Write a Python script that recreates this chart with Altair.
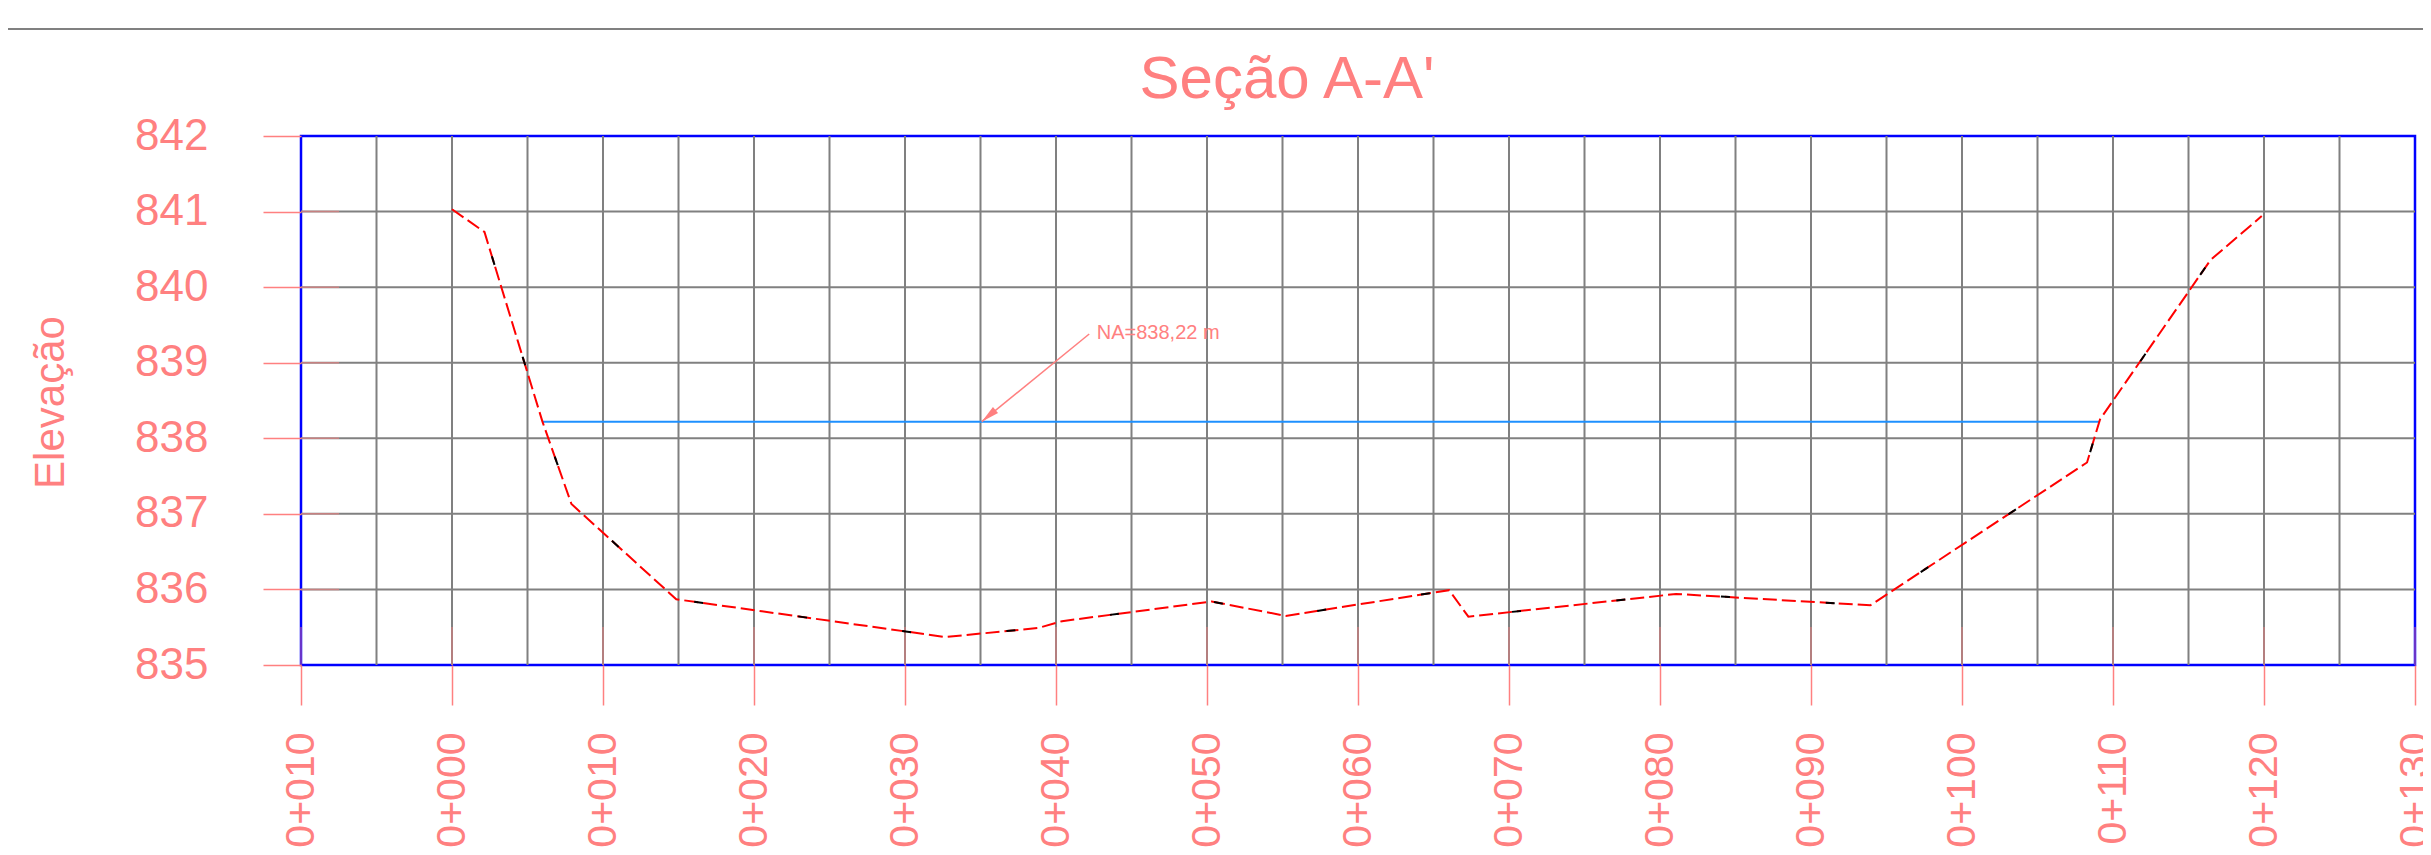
import altair as alt
import pandas as pd

# ---- data ----
estacas = [0.0, 2.15, 5.99, 7.91, 14.85, 32.68, 38.83, 40.4, 50.31, 55.21,
           66.03, 67.31, 81.06, 93.93, 108.28, 109.14, 116.46, 119.85]
cotas = [841.03, 840.73, 838.22, 837.13, 835.87, 835.37, 835.49, 835.58, 835.84, 835.65,
         835.99, 835.64, 835.94, 835.79, 837.68, 838.25, 840.36, 840.94]

na_x = [5.99, 109.1]
na_level = 838.22
na_text = "NA=838,22 m"
arrow_x = [42.2, 35.08]
arrow_y = [839.38, 838.22]
na_label_x = 42.7
na_label_y = 839.39

x_ticks = list(range(-10, 131, 10))
x_tick_labels = ["-0+010", "0+000", "0+010", "0+020", "0+030", "0+040", "0+050", "0+060",
                 "0+070", "0+080", "0+090", "0+100", "0+110", "0+120", "0+130"]
y_ticks = list(range(835, 843))
grid_x = list(range(-5, 130, 5))
grid_y = list(range(836, 842))

title_text = "Seção A-A'"
y_title = "Elevação"

PINK = "#FF8080"
FONT = "Liberation Sans"

# ---- scales / axes ----
xscale = alt.Scale(domain=[-10, 130], nice=False, zero=False)
yscale = alt.Scale(domain=[835, 842], nice=False, zero=False)

label_expr = "[" + ",".join("'%s'" % s for s in x_tick_labels) + "][round((datum.value + 10) / 10)]"

xaxis = alt.Axis(values=x_ticks, labelExpr=label_expr, title=None, grid=False, domain=False,
                 ticks=True, tickSize=40, tickColor=PINK, tickWidth=1.5,
                 labelAngle=270, labelAlign="right", labelBaseline="middle",
                 labelPadding=27, labelFontSize=41, labelFont=FONT, labelColor=PINK,
                 labelFlush=False, labelOverlap=False)
yaxis = alt.Axis(values=y_ticks, format="d", title=y_title, grid=False, domain=False,
                 ticks=True, tickSize=38, tickColor=PINK, tickWidth=1.5,
                 labelPadding=55, labelFontSize=44, labelFont=FONT, labelColor=PINK,
                 labelAlign="right", labelBaseline="middle", labelFlush=False, labelOverlap=False,
                 titleFont=FONT, titleFontSize=42, titleColor=PINK, titleFontWeight="normal",
                 titleAngle=270, titleAlign="center", titleBaseline="alphabetic",
                 titleX=-238, titleY=266)


def X(field="x"):
    return alt.X(field, type="quantitative", scale=xscale, axis=xaxis)


def Y(field="y"):
    return alt.Y(field, type="quantitative", scale=yscale, axis=yaxis)


terrain = pd.DataFrame({"x": estacas, "y": cotas})
water = pd.DataFrame({"x": na_x, "y": [na_level, na_level]})
arrow = pd.DataFrame({"x": arrow_x, "y": arrow_y})
tip = pd.DataFrame({"x": [arrow_x[1]], "y": [arrow_y[1]]})
label = pd.DataFrame({"x": [na_label_x], "y": [na_label_y], "t": [na_text]})
gx = pd.DataFrame({"x": grid_x})
gy = pd.DataFrame({"y": grid_y})
tx = pd.DataFrame({"x": x_ticks})
ty = pd.DataFrame({"y": y_ticks[1:-1]})
one = pd.DataFrame({"t": [title_text]})

vgrid = alt.Chart(gx).mark_rule(color="#808080", strokeWidth=2).encode(x=X())
hgrid = alt.Chart(gy).mark_rule(color="#808080", strokeWidth=2).encode(y=Y())

# inner continuation of the axis ticks (CAD style ticks crossing the frame)
xtick_in = alt.Chart(tx).mark_rule(color=PINK, strokeWidth=1.5, opacity=0.55).encode(
    x=X(), y=alt.value(529), y2=alt.value(491))
ytick_in = alt.Chart(ty).mark_rule(color=PINK, strokeWidth=1.5, opacity=0.55).encode(
    y=Y(), x=alt.value(0), x2=alt.value(38))

water_line = alt.Chart(water).mark_line(color="#1E90FF", strokeWidth=2).encode(x=X(), y=Y())

terrain_red = alt.Chart(terrain).mark_line(color="#FF0000", strokeWidth=2, strokeDash=[14, 5]).encode(
    x=X(), y=Y(), order=alt.Order("x:Q"))
terrain_black = alt.Chart(terrain).mark_line(color="#000000", strokeWidth=2, strokeDash=[9, 96],
                                              strokeDashOffset=40).encode(
    x=X(), y=Y(), order=alt.Order("x:Q"))

arrow_line = alt.Chart(arrow).mark_line(color=PINK, strokeWidth=1.5).encode(x=X(), y=Y())
arrow_head = alt.Chart(tip).mark_point(shape="M0,0L0.22,1L-0.22,1Z", size=1296, angle=230,
                                       filled=True, color=PINK, opacity=1).encode(x=X(), y=Y())
na_label = alt.Chart(label).mark_text(align="left", baseline="middle", fontSize=20, font=FONT,
                                      color=PINK).encode(x=X(), y=Y(), text="t:N")

title_mark = alt.Chart(one).mark_text(align="center", baseline="alphabetic", fontSize=60, font=FONT,
                                      color=PINK).encode(x=alt.value(986), y=alt.value(-38), text="t:N")
top_rule = alt.Chart(one).mark_rule(color="#808080", strokeWidth=2).encode(
    x=alt.value(-301), x2=alt.value(2130), y=alt.value(-107))

chart = alt.layer(
    vgrid, hgrid, xtick_in, ytick_in, water_line, terrain_red, terrain_black, arrow_line,
    arrow_head, na_label, title_mark, top_rule
).properties(
    width=2114, height=529,
    autosize=alt.AutoSizeParams(type="none"),
    padding={"left": 293, "top": 128, "right": 8, "bottom": 182},
    background="white",
).configure_view(stroke="#0000FF", strokeWidth=2.5)

chart.save("out.html", embed_options={"renderer": "svg", "actions": False})
